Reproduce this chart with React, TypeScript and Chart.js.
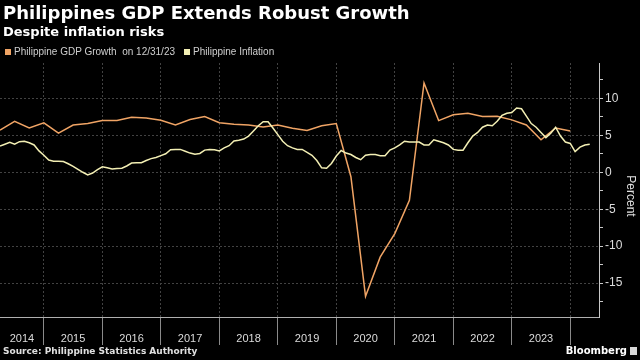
import React, { useEffect, useRef } from "react";
import { Chart, registerables } from "chart.js";

Chart.register(...registerables);

// ---- Data ----
const YEARS = [2014, 2015, 2016, 2017, 2018, 2019, 2020, 2021, 2022, 2023];
const BASE_YEAR = 2014;

// Quarterly GDP growth (y/y, %), Q1 2014 .. Q4 2023 (plotted at quarter end)
const GDP_START_YEAR = 2014;
const gdpGrowth = [
  5.7, 6.9, 6.0, 6.7,
  5.3, 6.4, 6.6, 7.0,
  7.0, 7.45, 7.35, 7.05,
  6.4, 7.15, 7.55, 6.7,
  6.5, 6.4, 6.15, 6.4,
  5.95, 5.65, 6.3, 6.6,
  -0.6, -16.8, -11.5, -8.3,
  -3.8, 12.1, 7.0, 7.8,
  8.0, 7.55, 7.6, 7.1,
  6.4, 4.4, 6.0, 5.6,
];

// Monthly inflation (y/y, %), Mar 2014 .. Apr 2024
const INFL_START_YEAR = 2014;
const INFL_START_MONTH = 3;
const inflation = [
  3.55, 3.8, 4.05, 3.8, 4.15, 4.2, 4.0, 3.7, 2.9, 2.3,
  1.65, 1.5, 1.5, 1.45, 1.15, 0.8, 0.4, 0.0, -0.35, -0.1, 0.35, 0.75,
  0.6, 0.45, 0.5, 0.55, 0.85, 1.25, 1.3, 1.3, 1.6, 1.85, 2.0, 2.25,
  2.5, 3.05, 3.1, 3.1, 2.85, 2.6, 2.45, 2.55, 3.0, 3.1, 3.05, 2.9,
  3.3, 3.6, 4.25, 4.35, 4.5, 4.9, 5.6, 6.3, 6.85, 6.85, 6.0, 5.1,
  4.2, 3.6, 3.3, 3.1, 3.1, 2.7, 2.3, 1.6, 0.6, 0.55, 1.2, 2.2,
  2.95, 2.6, 2.4, 2.0, 1.7, 2.3, 2.4, 2.4, 2.25, 2.25, 3.0, 3.3,
  3.7, 4.2, 4.1, 4.1, 4.1, 3.7, 3.7, 4.4, 4.2, 4.0, 3.7, 3.1,
  3.0, 3.0, 4.0, 4.9, 5.4, 6.1, 6.4, 6.3, 6.9, 7.7, 8.0, 8.1,
  8.7, 8.6, 7.6, 6.6, 6.1, 5.4, 4.7, 5.3, 6.1, 4.9, 4.1, 3.9,
  2.8, 3.4, 3.7, 3.8,
];

const Y_LABEL_TICKS = [-15, -10, -5, 0, 5, 10];
const Y_MINOR_TICKS = [-17.5, -12.5, -7.5, -2.5, 2.5, 7.5, 12.5];

// ---- Axis configuration ----
const X_MIN = 3; // months since Jan 2014
const X_MAX = 125.9;
const Y_MIN = -19.6;
const Y_MAX = 14.8;

const GDP_COLOR = "#f0a465";
const INFL_COLOR = "#f3efb4";
const GRID_COLOR = "#424242";

const monthIndex = (year: number, month: number) => (year - BASE_YEAR) * 12 + month;

const gdpPoints = gdpGrowth.map((v, i) => ({
  x: monthIndex(GDP_START_YEAR + Math.floor(i / 4), (i % 4) * 3 + 3),
  y: v,
}));
const inflPoints = inflation.map((v, i) => {
  const total = INFL_START_MONTH - 1 + i;
  return { x: monthIndex(INFL_START_YEAR + Math.floor(total / 12), (total % 12) + 1), y: v };
});

const yearBoundaries = YEARS.slice(1).concat([2024]).map((y) => monthIndex(y, 0));
const yearLabelPos = new Map<number, string>();
YEARS.forEach((y) => {
  const start = Math.max(monthIndex(y, 0), X_MIN);
  const end = monthIndex(y + 1, 0);
  yearLabelPos.set((start + end) / 2, String(y));
});
const xTickValues = [...yearBoundaries, ...Array.from(yearLabelPos.keys())].sort((a, b) => a - b);
const isBoundary = (v: number | undefined) => v !== undefined && yearBoundaries.includes(v);

const yTickValues = [...Y_LABEL_TICKS, ...Y_MINOR_TICKS].sort((a, b) => a - b);

export default function App() {
  const ref = useRef<HTMLCanvasElement>(null);

  useEffect(() => {
    document.body.style.margin = "0";
    document.body.style.background = "#000";
    Chart.defaults.font.family = "'Liberation Sans', Arial, sans-serif";
    const chart = new Chart(ref.current as HTMLCanvasElement, {
      type: "line",
      data: {
        datasets: [
          {
            label: "Philippine Inflation",
            data: inflPoints,
            borderColor: INFL_COLOR,
            borderWidth: 1.5,
            pointRadius: 0,
            tension: 0,
          },
          {
            label: "Philippine GDP Growth",
            data: gdpPoints,
            borderColor: GDP_COLOR,
            borderWidth: 1.5,
            pointRadius: 0,
            tension: 0,
          },
        ],
      },
      options: {
        animation: false,
        responsive: false,
        layout: { padding: { top: 63, bottom: 15, left: 0, right: 0 } },
        plugins: { legend: { display: false }, tooltip: { enabled: false }, title: { display: false } },
        scales: {
          x: {
            type: "linear",
            min: X_MIN,
            max: X_MAX,
            afterBuildTicks: (s: any) => {
              s.ticks = xTickValues.map((v) => ({ value: v }));
            },
            afterFit: (s: any) => {
              s.height = 28;
            },
            ticks: {
              autoSkip: false,
              maxRotation: 0,
              minRotation: 0,
              padding: -13,
              color: "#dcdcdc",
              font: { size: 11 },
              callback: (v: any) => yearLabelPos.get(Number(v)) ?? "",
            },
            grid: {
              color: (c: any) => (isBoundary(c.tick?.value) ? GRID_COLOR : "transparent"),
              tickColor: (c: any) => (isBoundary(c.tick?.value) ? "#8a8a8a" : "transparent"),
              tickLength: 28,
              lineWidth: 1,
            },
            border: { color: "#b0b0b0", dash: [2, 2] },
          },
          y: {
            position: "right",
            min: Y_MIN,
            max: Y_MAX,
            afterBuildTicks: (s: any) => {
              s.ticks = yTickValues.map((v) => ({ value: v }));
            },
            afterFit: (s: any) => {
              s.width = 41;
            },
            ticks: {
              padding: 2,
              color: "#dcdcdc",
              font: { size: 12 },
              callback: (v: any) => (Y_LABEL_TICKS.includes(Number(v)) ? String(v) : ""),
            },
            grid: {
              color: (c: any) => (Y_LABEL_TICKS.includes(c.tick?.value) ? GRID_COLOR : "transparent"),
              tickColor: "#c8c8c8",
              tickLength: 4,
            },
            border: { color: "#c8c8c8", dash: [2, 2] },
          },
        },
      },
    } as any);
    return () => chart.destroy();
  }, []);

  const boldFont = "'DejaVu Sans', sans-serif";
  const regFont = "'Liberation Sans', Arial, sans-serif";

  return (
    <div style={{ position: "relative", width: 640, height: 360, background: "#000", overflow: "hidden" }}>
      <canvas ref={ref} width={640} height={360} style={{ position: "absolute", left: 0, top: 0, display: "block" }} />
      <div style={{ position: "absolute", left: 3, top: 4, font: `bold 18px/18px ${boldFont}`, color: "#fff", whiteSpace: "nowrap" }}>
        Philippines GDP Extends Robust Growth
      </div>
      <div style={{ position: "absolute", left: 3, top: 25, font: `bold 13px/13px ${boldFont}`, color: "#fff", whiteSpace: "nowrap" }}>
        Despite inflation risks
      </div>
      <div style={{ position: "absolute", left: 5, top: 47, font: `10px/10px ${regFont}`, color: "#cfcfcf", whiteSpace: "pre", display: "flex", alignItems: "center" }}>
        <span style={{ display: "inline-block", width: 6, height: 6, background: GDP_COLOR, marginRight: 3 }} />
        <span>{"Philippine GDP Growth  on 12/31/23"}</span>
        <span style={{ display: "inline-block", width: 6, height: 6, background: INFL_COLOR, marginLeft: 9, marginRight: 3 }} />
        <span>Philippine Inflation</span>
      </div>
      <div style={{ position: "absolute", left: 631, top: 196, transform: "translate(-50%, -50%)", writingMode: "vertical-rl", font: `12px/12px ${regFont}`, color: "#e0e0e0", whiteSpace: "nowrap" }}>
        Percent
      </div>
      <div style={{ position: "absolute", left: 3, top: 347, font: `bold 9px/9px ${boldFont}`, color: "#e0e0e0", whiteSpace: "nowrap" }}>
        Source: Philippine Statistics Authority
      </div>
      <div style={{ position: "absolute", right: 3, top: 346, font: `bold 10px/10px ${boldFont}`, color: "#fff", whiteSpace: "nowrap", display: "flex", alignItems: "center" }}>
        <span>Bloomberg</span>
        <span style={{ display: "inline-block", width: 7, height: 8, background: "#d8d8d8", marginLeft: 3 }} />
      </div>
    </div>
  );
}
